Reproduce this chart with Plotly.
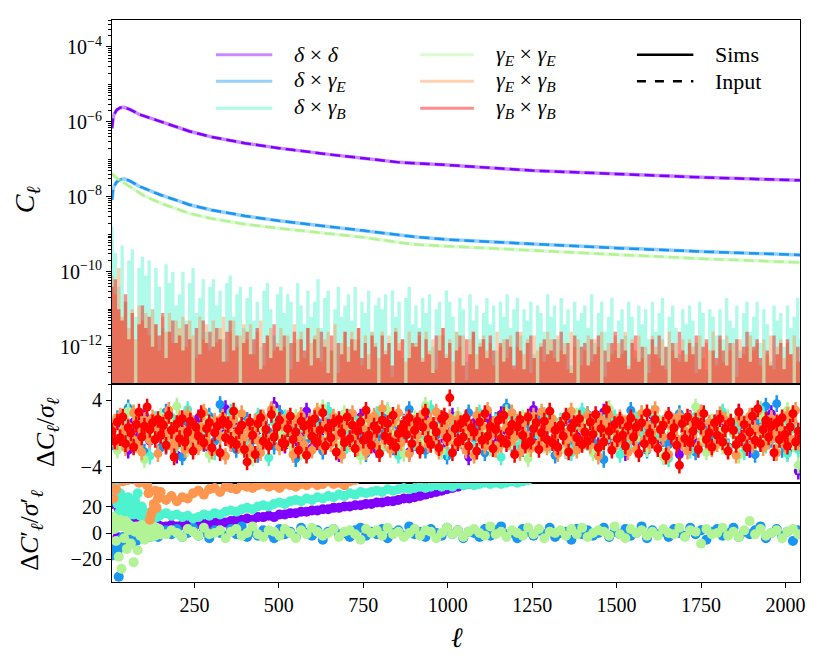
import plotly.graph_objects as go
from plotly.subplots import make_subplots

names = ["<i>δ</i> × <i>δ</i>",
         "<i>δ</i> × <i>γ<sub>E</sub></i>",
         "<i>δ</i> × <i>γ<sub>B</sub></i>",
         "<i>γ<sub>E</sub></i> × <i>γ<sub>E</sub></i>",
         "<i>γ<sub>E</sub></i> × <i>γ<sub>B</sub></i>",
         "<i>γ<sub>B</sub></i> × <i>γ<sub>B</sub></i>"]
colors = ["#8000ff", "#1996f3", "#4df3ce", "#b2f396", "#ff964f", "#ff0000"]

# ---- top panel, input spectra: log10(C_ell) read at a few multipoles
ell_smooth = [6, 10, 20, 30, 43, 60, 87, 100, 150, 200, 235, 300, 363, 400,
              500, 600, 660, 750, 857, 916, 1000, 1250, 1500, 1750, 2043]
log_dd = [-6.17, -5.84, -5.68, -5.62, -5.61, -5.67, -5.80, -5.84, -5.98, -6.14,
          -6.25, -6.40, -6.52, -6.57, -6.70, -6.82, -6.88, -6.97, -7.08, -7.11,
          -7.15, -7.30, -7.40, -7.48, -7.56]
log_de = [-8.08, -7.75, -7.60, -7.54, -7.52, -7.58, -7.72, -7.77, -7.95, -8.10,
          -8.21, -8.35, -8.46, -8.51, -8.64, -8.74, -8.80, -8.90, -9.02, -9.08,
          -9.14, -9.26, -9.37, -9.46, -9.55]
log_ee = [-7.37, -7.42, -7.50, -7.56, -7.62, -7.72, -7.90, -7.97, -8.17, -8.33,
          -8.44, -8.58, -8.68, -8.73, -8.84, -8.93, -8.98, -9.08, -9.22, -9.28,
          -9.32, -9.43, -9.55, -9.65, -9.75]

# ---- top panel, B-mode sims: log10(C_ell) in tenths, every 10th ell
ell_noise = list(range(6, 2047, 10))
tenth_db = [
    -88, -95, -104, -93, -108, -97, -94, -112, -99, -96,
    -101, -97, -110, -99, -104, -115, -98, -103, -100, -109,
    -106, -100, -113, -103, -99, -111, -107, -102, -116, -104,
    -102, -109, -105, -118, -103, -101, -112, -106, -104, -115,
    -107, -104, -113, -108, -120, -105, -103, -110, -117, -106,
    -104, -111, -106, -108, -119, -103, -109, -114, -105, -112,
    -108, -102, -115, -107, -105, -121, -110, -104, -112, -109,
    -106, -113, -104, -118, -108, -111, -105, -116, -109, -107,
    -110, -106, -119, -105, -112, -108, -123, -107, -104, -114,
    -109, -115, -107, -111, -106, -120, -110, -108, -117, -105,
    -108, -112, -116, -107, -110, -124, -106, -113, -109, -118,
    -111, -107, -114, -109, -121, -108, -112, -106, -115, -110,
    -107, -117, -110, -113, -108, -122, -109, -111, -116, -106,
    -112, -109, -118, -107, -114, -110, -125, -108, -113, -111,
    -109, -115, -106, -119, -111, -108, -116, -112, -107, -121,
    -113, -110, -117, -108, -112, -123, -109, -114, -110, -118,
    -108, -116, -111, -107, -120, -112, -109, -115, -122, -110,
    -114, -109, -113, -119, -108, -111, -126, -110, -112, -117,
    -110, -118, -107, -113, -115, -109, -121, -111, -108, -116,
    -112, -108, -119, -110, -114, -124, -109, -113, -111, -120,
    -109, -115, -112, -107, -118]
tenth_eb = [
    -101, -106, -99, -112, -108, -115, -110, -118, -109, -113,
    -111, -117, -110, -114, -121, -112, -116, -111, -119, -113,
    -115, -112, -120, -113, -117, -123, -112, -118, -114, -121,
    -113, -119, -115, -112, -124, -116, -113, -120, -117, -114,
    -118, -114, -122, -116, -113, -125, -117, -115, -121, -119,
    -115, -120, -117, -126, -114, -118, -116, -123, -115, -119,
    -117, -115, -124, -118, -116, -121, -114, -127, -119, -116,
    -120, -116, -118, -115, -125, -117, -122, -116, -119, -123,
    -116, -121, -117, -128, -115, -119, -118, -124, -116, -120,
    -119, -117, -123, -116, -121, -118, -126, -117, -115, -122,
    -118, -124, -116, -120, -117, -129, -118, -116, -122, -119,
    -117, -121, -119, -125, -116, -120, -118, -123, -117, -126,
    -120, -116, -122, -118, -127, -117, -121, -119, -124, -116,
    -118, -123, -117, -121, -119, -126, -116, -120, -118, -125,
    -121, -117, -124, -118, -120, -116, -128, -119, -122, -117,
    -119, -122, -116, -125, -118, -121, -117, -123, -120, -127,
    -117, -120, -123, -118, -126, -116, -121, -119, -124, -118,
    -122, -118, -120, -127, -117, -123, -119, -121, -116, -125,
    -118, -124, -117, -121, -119, -128, -118, -122, -120, -117,
    -121, -119, -125, -118, -122, -117, -126, -120, -118, -123,
    -119, -122, -117, -124, -120]
tenth_bb = [
    -104, -102, -110, -113, -106, -118, -111, -150, -114, -109,
    -115, -112, -120, -114, -117, -111, -123, -116, -113, -119,
    -117, -121, -114, -118, -150, -115, -122, -113, -119, -116,
    -120, -115, -118, -124, -116, -113, -121, -117, -150, -119,
    -116, -122, -118, -115, -126, -119, -117, -123, -114, -120,
    -121, -117, -150, -119, -116, -124, -118, -121, -115, -125,
    -118, -123, -116, -120, -127, -117, -150, -119, -122, -116,
    -124, -118, -121, -115, -123, -119, -126, -117, -120, -150,
    -117, -122, -119, -125, -116, -121, -118, -150, -123, -119,
    -120, -116, -124, -118, -122, -127, -117, -121, -115, -123,
    -119, -150, -121, -117, -125, -118, -122, -116, -126, -120,
    -118, -123, -117, -121, -150, -119, -124, -118, -120, -125,
    -116, -121, -126, -119, -117, -123, -150, -120, -118, -122,
    -121, -118, -124, -116, -122, -119, -127, -117, -150, -120,
    -119, -125, -118, -122, -117, -150, -121, -124, -119, -116,
    -123, -118, -121, -126, -119, -117, -124, -120, -150, -122,
    -118, -122, -117, -125, -120, -150, -119, -123, -116, -121,
    -124, -119, -122, -117, -126, -120, -118, -150, -121, -123,
    -117, -121, -125, -119, -150, -118, -123, -120, -116, -124,
    -120, -118, -123, -150, -121, -125, -117, -122, -119, -126,
    -118, -122, -150, -120, -124]

# ---- middle panel: residuals Delta C / sigma in tenths
ell_res16 = list(range(6, 2039, 16))
ell_res8 = list(range(6, 2047, 8))
res_dd = [5, -12, 8, -20, 14, -3, 22, -9, 0, 17, -15, 6, -26, 11, 3, -7,
          19, -4, -18, 9, 2, 30, -11, 7, -6, 13, -21, 4, 16, -8, 34, 24,
          -14, 10, -5, 1, 27, -17, 8, -10, 15, -2, -24, 12, 5, -13, 20, -6,
          3, -19, 11, 25, -7, 0, 14, -22, 6, -9, 18, -3, 9, -16, 2, 21,
          -11, 7, -28, 13, 4, -5, 16, -12, 23, -1, 8, -18, 10, -4, 29, -8,
          1, 15, -13, 6, -20, 12, -3, 19, -9, 5, -15, 26, -6, 11, -2, -23,
          17, -10, 4, -1, 22, -14, 9, -7, 14, -25, 3, 18, -12, 7, -4, 12,
          -8, 20, -16, 2, 10, -6, -19, 15, 5, -11, 24, -3, 8, -21, 13, -45]
res_de = [-10, 18, -5, 31, -14, 7, -22, 12, 3, -17, 26, -2, 9, -28, 15, -6,
          4, -12, 21, -9, 35, -3, 11, -19, 6, 16, -8, -25, 13, 2, -15, 24,
          -4, 10, -30, 18, -7, 5, 14, -21, 27, -1, 8, -13, 19, -10, 3, -24,
          12, -6, 1, 22, -16, 9, -3, 29, -11, 15, -20, 7, -2, 17, -27, 11,
          6, -14, 25, -5, 10, -23, 2, 16, -9, 32, -12, 4, -18, 13, -1, 20,
          -7, 14, -26, 8, 19, -4, -15, 11, 23, -10, 5, -31, 16, -2, 9, -17,
          28, -8, 3, -20, 12, 17, -6, -13, 7, 24, -3, 10, -22, 15, 1, -11,
          18, -5, -16, 9, 26, -12, 4, -25, 14, 33, -7, 36, -19, 6, 11, -10]
res_db = [8, -16, 13, -4, 24, -11, 2, -27, 17, 6, -9, 20, -14, 1, 29, -7,
          -13, 5, 16, -22, 9, -2, 26, -10, 12, -18, 4, 21, -6, -29, 14, 3,
          19, -8, -1, 11, -24, 15, 7, -12, 28, -5, 10, -20, 2, 17, -15, 6,
          -3, 23, -17, 9, 0, -26, 13, 5, -10, 18, -7, 30, -14, 4, -21, 12,
          16, -4, 8, -19, 25, 1, -12, 14, -28, 7, 20, -9, 3, -16, 11, -2,
          22, -13, 6, 15, -6, -23, 10, 27, -11, 4, -18, 13, -1, 19, -25, 8,
          -9, 17, 2, -15, 24, -5, 12, -30, 9, 16, -3, -20, 21, 5, -12, 14,
          -6, 26, -17, 3, 11, -22, 18, -8, 29, -14, 7, -4, 15, -24, 10, -19]
res_ee = [12, -20, 4, 27, -9, 16, -31, 6, -3, 21, -14, 10, 33, -7, -18, 2,
          -11, 19, -25, 8, 14, -5, 1, 23, -16, 9, -29, 13, 5, -10, 26, -2,
          7, -13, 20, -22, 3, 15, -8, 31, -4, 11, -19, 24, -12, 6, -27, 17,
          -1, 9, -15, 28, -6, 13, -24, 4, 18, -10, 34, -3, 8, -21, 14, -7,
          22, -12, 2, -26, 16, 7, -17, 11, -5, 25, -9, 0, 19, -30, 10, 5,
          -14, 27, -4, 12, -20, 3, 21, -8, 15, -23, 6, -11, 30, -2, 9, -16,
          13, -6, 24, -18, 1, 17, -28, 10, -3, 20, -13, 7, 32, -9, -22, 14,
          4, -15, 19, -1, -26, 11, 6, -10, 23, -5, 16, -20, 8, 28, -12, -38]
res_eb = [-6, 14, -10, 21, 3, -17, 9, -2, 25, -13, 7, -22, 16, 1, -8, 19,
          10, -24, 5, 13, -4, 28, -15, 2, -11, 18, 6, -19, 23, -7, 12, -1,
          -16, 8, 26, -9, 4, -21, 15, 11, -3, 20, -27, 7, -12, 17, 1, -14,
          24, -5, 10, -18, 3, 14, -8, -23, 19, 6, -11, 29, -2, 9, -16, 13,
          -10, 18, 2, -25, 12, -4, 22, -13, 7, 15, -20, 5, 27, -7, -15, 10,
          3, -12, 20, -3, 11, -26, 8, 16, -9, 24, -1, -17, 13, 6, -22, 18,
          -4, 21, -14, 9, 30, -8, 2, -19, 14, -6, 25, -11, 5, 17, -24, 8,
          12, -2, -18, 23, 7, -13, 15, -7, 26, -21, 4, 10, -9, 19, 3, -14,
          17, -8, 6, -20, 13, 1, -26, 22, -5, 9, -15, 28, -3, 11, -19, 4,
          -13, 20, 7, -10, 25, -4, 14, -23, 2, 16, -7, -18, 21, 8, -12, 26,
          5, -16, 11, 18, -2, -24, 9, 15, -11, 3, 27, -6, -20, 13, 6, -9,
          22, -14, 1, 10, -27, 16, -5, 8, 23, -17, 4, -10, 19, -1, 12, -22,
          -3, 15, -19, 7, 24, -8, 11, -13, 2, 29, -16, 6, -4, 18, -25, 9,
          14, -6, 20, -11, 3, -21, 17, -2, 10, -15, 25, 1, -9, 13, -18, 7,
          -12, 23, -5, 16, -20, 8, 4, -26, 19, -7, 12, -3, 21, -14, 6, 27,
          2, -17, 13, -9, 18, -1, -23, 10, 5, -13, 22, -6, 15, 28, -11, -4]
res_bb = [3, -9, 14, -5, 20, -12, 7, 1, -16, 11, 26, -4, 9, 32, 5, 13,
          -7, 17, -2, 10, -14, 22, 4, -28, 12, -6, 18, -10, 2, 15, -21, 8,
          -3, 24, -11, 6, 13, -17, 1, 9, -23, 16, -5, 11, -8, 27, -13, 4,
          10, -19, -34, 14, -2, -25, 12, 19, -9, 5, -15, 23, -4, 8, 16, -11,
          -12, 6, 21, -7, 2, -20, 15, 9, -26, 11, -3, 18, -10, 4, 25, -15,
          7, -5, 13, -22, 17, 1, -11, 20, -6, 10, -18, 3, 14, -8, 28, -2,
          -14, 9, 5, -24, 16, -3, 12, -9, 22, -16, 0, 6, 11, -1, 19, -12,
          4, 15, -20, 8, 26, -7, -13, 10, 2, -17, 18, 21, -5, 43, -23, 6,
          -10, 12, -4, 19, -15, 7, 2, -21, 14, -8, 24, -3, 9, -18, 5, 16,
          -6, 22, -12, 3, 11, -25, 8, 17, -2, -14, 20, -9, 6, 13, -19, 1,
          15, -7, 27, -11, 4, -16, 10, -3, 21, -22, 7, 12, -5, 18, -13, 2,
          -9, 14, -1, 23, -17, 6, -10, 29, 3, -20, 11, -6, 16, -2, -15, 9,
          19, -4, 8, -24, 13, -12, 25, 1, -8, 17, -18, 5, 10, -27, 22, -3,
          7, -14, -38, 12, -6, 20, -11, 3, 15, -19, 9, 24, -7, 1, -16, 13,
          -2, 18, -10, 6, -21, 14, 4, -13, 26, -5, 11, -17, 2, 21, -8, 30,
          -12, 5, 16, -4, 9, -23, 13, -7, 19, -1, -15, 8, 24, -10, 3, -6]

# ---- bottom panel: Delta C' / sigma'
ell_bot = list(range(6, 151, 4)) + list(range(166, 2039, 16))
bot_dd = [22, 30, 12, 5, -3, 18, 16, 8, 20, 14, 17, 10, 19, 16, 13, 22, 15, 9,
          17, 12, 14, 8, 11, 7, 10, 6, 9, 5, 8, 6, 7, 5, 6, 4, 6, 5, 5,
          5, 6, 5, 6, 7, 6, 7, 8, 7, 8, 9, 8, 9, 10, 10, 11, 10, 12, 12, 13,
          12, 14, 14, 15, 15, 16, 16, 17, 17, 18, 18, 19, 19, 20, 20, 21, 21,
          22, 22, 23, 23, 24, 24, 25, 26, 26, 27, 28, 29, 30, 31, 32, 33, 34,
          35, 36, 37, 38, 39]
bot_de = [-17, -10, -8, -12, -14, -33, -5, -9, -3, -6, -11, -2, -7, -4, -8, -1,
          -5, -3, -6, 0, -4, -2, -3, 1, -2, -4, 0, -1, -3, 2, -1, 0, -2, 1, -3, 0, 2,
          2, -1, 3, -3, 0, 4, -2, 1, -4, 2, 0, -2, 3, -1, 5, -3, 1, -2, 2, 0,
          -4, 3, -1, 1, -3, 4, 0, -2, 2, -5, 1, 3, -1, 0, -3, 2, 4, -2, 1, -1,
          3, -4, 0, 2, -2, 5, -1, 1, -3, 3, 0, -2, 4, -1, 2, -4, 1, 0, -3, 3,
          -2, 2, 5, -1, 0, -4, 3, 1, -2, 2, -1, 4, -3, 0, 1, -5, 3, -1, 2, -2,
          0, 4, -3, 1, -1, 3, -2, 0, 5, -4, 2, -1, 1, -3, 3, 0, -2, 4, -1, 2,
          -5, 1, 3, -2, 0, 4, -3, 1, -1, 2, 5, -4, 0, 3, -2, 1, -6, 2]
bot_db = [35, 10, 28, 37, 22, 15, 30, 27, 18, 24, 20, 12, 27, 19, 16, 22, 14, 25,
          18, 30, 20, 13, 20, 17, 12, 15, 10, 13, 8, 12, 10, 11, 13, 12, 15, 13, 14,
          15, 13, 14, 12, 13, 11, 12, 14, 13, 15, 14, 16, 17, 16, 18, 19, 18, 20,
          21, 20, 22, 23, 22, 24, 25, 24, 26, 25, 27, 26, 28, 27, 29, 28, 30, 29,
          31, 30, 31, 32, 31, 33, 32, 33, 34, 33, 34, 35, 34, 35, 36, 35, 36, 35,
          37, 36, 37, 36, 37, 38, 37, 38, 37, 38, 39, 38, 39, 40]
bot_ee = [8, 12, 3, -6, 7, -18, 10, -27, 5, -4, 9, -12, 2, 6, -8, 4, -22, 1, 5,
          -13, 3, -2, 6, 0, -5, 4, 2, -1, 3, -3, 5, 1, -2, 4, 0, 3, -1,
          -1, 2, 0, -3, 3, 1, -2, 4, -1, 0, 2, -4, 1, 3, -2, 0, 5, -1, -3, 2,
          1, -2, 3, 0, -4, 2, -1, 4, 1, -2, 0, 3, -3, 1, 2, -1, -5, 3, 0, 2,
          -2, 4, -1, 1, -3, 0, 3, -2, 2, 1, -4, 0, 4, -1, 2, -3, 1, 3, 0, -2,
          5, -1, 1, -3, 2, 0, -2, 4, -1, 3, -4, 1, 0, 2, -2, 3, -1, 4, -3, 0,
          2, 1, -2, 5, -1, -4, 3, 0, 2, -2, 1, -2, 3, 0, -1, 4, -3, 2, 1, -8,
          3, -1, 0, 4, -2, 1, -3, 2, 9, -1, 3, -2, 0, 2, -4, 1, 3, -1]
bot_eb = [40, 26, 45, 33, 50, 43, 48, 44, 39, 47, 42, 46, 40, 44, 49, 41, 43, 45,
          40, 42, 38, 44, 41, 39, 43, 40, 36, 30, 10, 14, 17, 22, 32, 19, 26, 29, 31,
          25, 28, 24, 27, 26, 30, 32, 29, 33, 34, 31, 35, 34, 33, 36, 35, 34, 36,
          37, 35, 36, 34, 37, 36, 35, 37, 36, 38, 36, 37, 39, 37, 38, 36, 39, 40]


def rgba(hx, a):
    h = hx.lstrip("#")
    return "rgba(%d,%d,%d,%.2f)" % (int(h[0:2], 16), int(h[2:4], 16), int(h[4:6], 16), a)


fig = make_subplots(rows=3, cols=1, shared_xaxes=True, vertical_spacing=0,
                    row_heights=[0.648, 0.176, 0.176])

smooth = {0: log_dd, 1: log_de, 3: log_ee}
noisy = {2: tenth_db, 4: tenth_eb, 5: tenth_bb}
for i in range(6):
    if i in smooth:
        yv = [10 ** v for v in smooth[i]]
        fig.add_trace(go.Scatter(x=ell_smooth, y=yv, mode="lines", name=names[i],
                                 line=dict(color=rgba(colors[i], 0.45), width=3.5)),
                      row=1, col=1)
        fig.add_trace(go.Scatter(x=ell_smooth, y=yv, mode="lines", name=names[i] + " input",
                                 line=dict(color=colors[i], width=2.5, dash="10px,5px")),
                      row=1, col=1)
    else:
        yv = [10 ** (v / 10) for v in noisy[i]]
        fig.add_trace(go.Scatter(x=ell_noise[:len(yv)], y=yv, mode="lines", name=names[i],
                                 line=dict(width=0, shape="hvh"), fill="tozeroy",
                                 fillcolor=rgba(colors[i], 0.45)),
                      row=1, col=1)

middle = [(res_dd, ell_res16), (res_de, ell_res16), (res_db, ell_res16),
          (res_ee, ell_res16), (res_eb, ell_res8), (res_bb, ell_res8)]
for i, (res, ells) in enumerate(middle):
    fig.add_trace(go.Scatter(x=ells[:len(res)], y=[v / 10 for v in res], mode="markers",
                             name=names[i],
                             marker=dict(color=colors[i], size=9, line=dict(width=0)),
                             error_y=dict(type="constant", value=1, thickness=2.5, width=0,
                                          color=colors[i])),
                  row=2, col=1)

for i, vals in [(0, bot_dd), (1, bot_de), (2, bot_db), (3, bot_ee), (4, bot_eb)]:
    fig.add_trace(go.Scatter(x=ell_bot[:len(vals)], y=vals, mode="markers", name=names[i],
                             marker=dict(color=colors[i], size=10, line=dict(width=0))),
                  row=3, col=1)

axis_style = dict(showline=True, mirror=True, linecolor="black", linewidth=1.2,
                  showgrid=False, zeroline=False, ticks="outside", ticklen=5,
                  tickwidth=1.2, tickcolor="black")
for r in (1, 2, 3):
    fig.update_xaxes(range=[6, 2043], row=r, col=1, **axis_style)
fig.update_xaxes(showticklabels=False, ticks="", row=1, col=1)
fig.update_xaxes(showticklabels=False, ticks="", row=2, col=1)
fig.update_xaxes(tickvals=[250, 500, 750, 1000, 1250, 1500, 1750, 2000], row=3, col=1)

even = [-12, -10, -8, -6, -4]
minor_vals = [m * 10.0 ** k for k in range(-14, -3) for m in range(2, 10)]
minor_vals += [10.0 ** k for k in (-13, -11, -9, -7, -5)]
fig.update_yaxes(type="log", range=[-13.0, -3.28], row=1, col=1,
                 tickvals=[10.0 ** k for k in even],
                 ticktext=["10<sup>−%d</sup>" % -k for k in even],
                 minor=dict(ticks="outside", ticklen=3, tickwidth=1, tickcolor="black",
                            tickmode="array", tickvals=minor_vals),
                 **axis_style)
fig.update_yaxes(range=[-5.94, 5.94], tickvals=[-4, 4], ticktext=["−4", "4"],
                 row=2, col=1, **axis_style)
fig.update_yaxes(range=[-37, 37.7], tickvals=[-20, 0, 20], ticktext=["−20", "0", "20"],
                 row=3, col=1, **axis_style)

# hand-placed legend in three columns (paper coordinates of the plot area)
legend_cols = [(0.151, 0.233, 0.262), (0.448, 0.526, 0.555), (0.763, 0.845, 0.874)]
legend_rows = [0.938, 0.891, 0.843]
shapes, annotations = [], []
entries = [(0, 0, 0), (0, 1, 1), (0, 2, 2), (1, 0, 3), (1, 1, 4), (1, 2, 5)]
for col, row, i in entries:
    x0, x1, xt = legend_cols[col]
    yy = legend_rows[row]
    shapes.append(dict(type="line", xref="paper", yref="paper", x0=x0, x1=x1, y0=yy, y1=yy,
                       line=dict(color=rgba(colors[i], 0.45), width=3)))
    annotations.append(dict(text=names[i], xref="paper", yref="paper", x=xt, y=yy,
                            xanchor="left", yanchor="middle", showarrow=False,
                            font=dict(size=22)))
for row, (label, dash) in enumerate([("Sims", "solid"), ("Input", "dash")]):
    x0, x1, xt = legend_cols[2]
    yy = legend_rows[row]
    shapes.append(dict(type="line", xref="paper", yref="paper", x0=x0, x1=x1, y0=yy, y1=yy,
                       line=dict(color="black", width=2.5, dash=dash)))
    annotations.append(dict(text=label, xref="paper", yref="paper", x=xt, y=yy,
                            xanchor="left", yanchor="middle", showarrow=False,
                            font=dict(size=22)))

annotations += [
    dict(text="<i>C<sub>ℓ</sub></i>", xref="paper", yref="paper", x=-0.125, y=0.681,
         xanchor="center", yanchor="middle", showarrow=False, textangle=-90,
         font=dict(size=28)),
    dict(text="Δ<i>C<sub>ℓ</sub></i>/<i>σ<sub>ℓ</sub></i>", xref="paper", yref="paper",
         x=-0.0945, y=0.267, xanchor="center", yanchor="middle", showarrow=False,
         textangle=-90, font=dict(size=26)),
    dict(text="Δ<i>C</i>′<sub><i>ℓ</i></sub>/<i>σ</i>′<sub><i>ℓ</i></sub>", xref="paper",
         yref="paper", x=-0.118, y=0.0925, xanchor="center", yanchor="middle",
         showarrow=False, textangle=-90, font=dict(size=26)),
    dict(text="<i>ℓ</i>", xref="paper", yref="paper", x=0.501, y=-0.0996,
         xanchor="center", yanchor="middle", showarrow=False, font=dict(size=28)),
]

fig.update_layout(
    width=814, height=658,
    margin=dict(l=104, r=22, t=12, b=84),
    paper_bgcolor="white", plot_bgcolor="white",
    font=dict(family="Liberation Serif", size=20, color="black"),
    showlegend=False,
    shapes=shapes,
    annotations=annotations,
)

fig.write_html("out.html")
